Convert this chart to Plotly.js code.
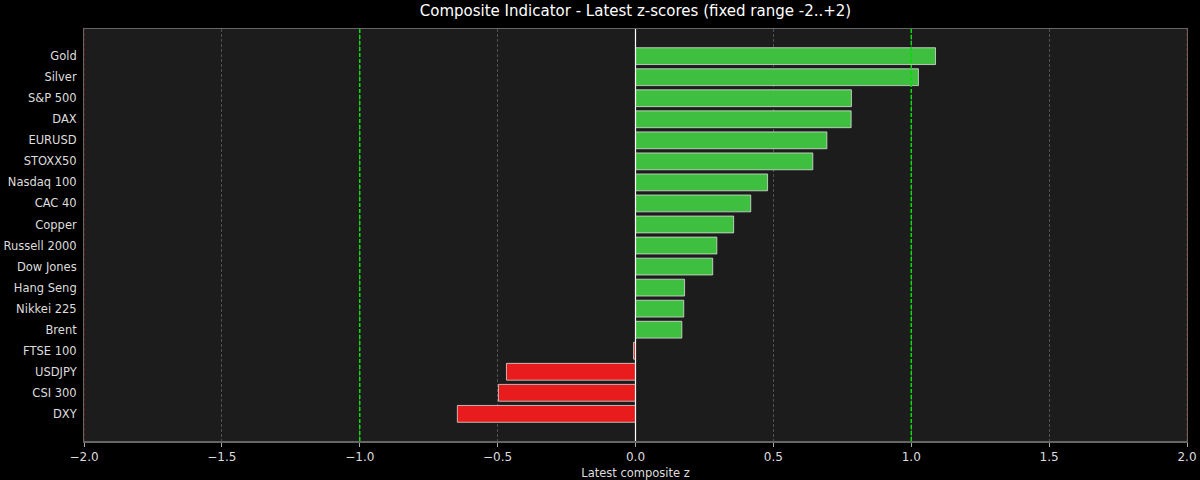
<!DOCTYPE html>
<html>
<head>
<meta charset="utf-8">
<script src="https://cdn.plot.ly/plotly-3.0.1.min.js"></script>
<style>
  html, body { margin: 0; padding: 0; background: #000; }
  #chart { width: 1200px; height: 480px; }
</style>
</head>
<body>
<div id="chart"></div>
<script>
let assets = ["Gold", "Silver", "S&P 500", "DAX", "EURUSD", "STOXX50", "Nasdaq 100", "CAC 40", "Copper",
    "Russell 2000", "Dow Jones", "Hang Seng", "Nikkei 225", "Brent", "FTSE 100", "USDJPY", "CSI 300", "DXY"]
let zScores = [1.088, 1.026, 0.783, 0.782, 0.694, 0.643, 0.479, 0.418, 0.356,
    0.295, 0.280, 0.178, 0.175, 0.168, -0.007, -0.468, -0.497, -0.646]
let xTicks = [-2.0, -1.5, -1.0, -0.5, 0.0, 0.5, 1.0, 1.5, 2.0]

let greenColor = "#3fbf3f"
let redColor = "#e81c1c"
let fontFamily = "DejaVu Sans, sans-serif"

let barColors = zScores.map(v => v >= 0 ? greenColor : redColor)

let barTrace = {
    type: "bar",
    orientation: "h",
    x: zScores,
    y: assets,
    width: 0.8,
    marker: {
        color: barColors,
        line: { color: "rgba(230,230,230,0.75)", width: 1 }
    },
    hoverinfo: "x+y"
}

function vline(x, color, width, dash) {
    return {
        type: "line", xref: "x", yref: "paper",
        x0: x, x1: x, y0: 0, y1: 1,
        line: { color: color, width: width, dash: dash },
        layer: "above"
    }
}

let layout = {
    width: 1200,
    height: 480,
    paper_bgcolor: "#000000",
    plot_bgcolor: "#1c1c1c",
    font: { family: fontFamily, color: "#dddddd", size: 11.5 },
    margin: { l: 84, r: 13, t: 29, b: 39 },
    title: {
        text: "Composite Indicator - Latest z-scores (fixed range -2..+2)",
        font: { family: fontFamily, size: 15, color: "#ffffff" },
        xref: "paper", x: 0.5, xanchor: "center", y: 0.978, yanchor: "middle"
    },
    xaxis: {
        range: [-2, 2],
        tickvals: xTicks,
        tickformat: ".1f",
        showgrid: true,
        gridcolor: "#505050",
        griddash: "3px,2px",
        gridwidth: 1,
        zeroline: false,
        showline: true,
        linecolor: "#666666",
        linewidth: 1.5,
        mirror: true,
        ticks: "outside",
        ticklen: 4,
        tickcolor: "#aaaaaa",
        tickfont: { size: 12, color: "#dddddd" },
        title: { text: "Latest composite z", font: { size: 11.5, color: "#dddddd" }, standoff: 6 }
    },
    yaxis: {
        type: "category",
        categoryorder: "array",
        categoryarray: assets,
        range: [assets.length - 1 + 1.29, -1.29],
        showgrid: false,
        zeroline: false,
        showline: true,
        linecolor: "#666666",
        linewidth: 1,
        mirror: true,
        ticks: "",
        ticklabelstandoff: 4,
        tickfont: { size: 11.5, color: "#dddddd" }
    },
    shapes: [
        vline(0, "#ffffff", 1.2, "solid"),
        vline(-1, "#00dd00", 1.5, "4px,2px"),
        vline(1, "#00dd00", 1.5, "4px,2px"),
        vline(-2, "#8b2020", 1, "3px,2px"),
        vline(2, "#8b2020", 1, "3px,2px")
    ],
    bargap: 0.2,
    showlegend: false
}

Plotly.newPlot("chart", [barTrace], layout, { displayModeBar: false, staticPlot: true })
</script>
</body>
</html>
